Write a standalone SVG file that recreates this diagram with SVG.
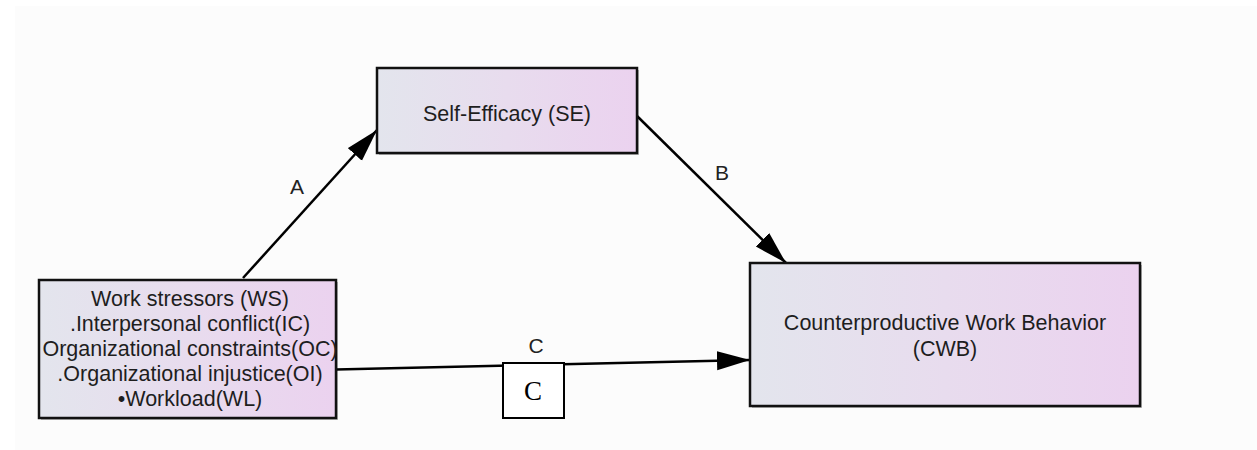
<svg xmlns="http://www.w3.org/2000/svg" width="1257" height="450" viewBox="0 0 1257 450">
  <defs>
    <linearGradient id="boxFill" x1="0" y1="0" x2="1" y2="0">
      <stop offset="0" stop-color="#e3e5ed"/>
      <stop offset="0.5" stop-color="#e8dcee"/>
      <stop offset="1" stop-color="#ebd2ef"/>
    </linearGradient>
    <marker id="arrow" markerUnits="userSpaceOnUse" markerWidth="34" markerHeight="20" refX="33" refY="9.5" orient="auto">
      <path d="M0,0 L33,9.5 L0,19 Z" fill="#000"/>
    </marker>
    <style>
      .node { fill: url(#boxFill); stroke: #111; stroke-width: 2.5; }
      .shadow { fill: #000; opacity: 0.25; }
      .txt { font-family: "Liberation Sans", Arial, sans-serif; font-size: 21.5px; fill: #1e1e1e; text-anchor: middle; }
      .edge { stroke: #000; stroke-width: 2.5; fill: none; marker-end: url(#arrow); }
      .lbl { font-family: "Liberation Sans", Arial, sans-serif; font-size: 21px; fill: #222; text-anchor: middle; }
    </style>
  </defs>

  <!-- canvas -->
  <rect x="0" y="0" width="1257" height="450" fill="#ffffff"/>
  <rect x="15" y="6" width="1242" height="444" fill="#fcfcfc"/>

  <!-- connectors -->
  <g id="connectors">
    <line class="edge" x1="243" y1="278" x2="377" y2="130"/>
    <line class="edge" x1="637" y1="116" x2="786" y2="263"/>
    <line class="edge" x1="336" y1="369.5" x2="750" y2="360"/>
    <text class="lbl" x="297" y="194">A</text>
    <text class="lbl" x="722" y="180">B</text>
    <text class="lbl" x="536" y="353">C</text>
  </g>

  <!-- Self-Efficacy -->
  <g id="node-se">
    <rect class="shadow" x="379" y="70" width="260" height="85"/>
    <rect class="node" x="377" y="68" width="260" height="85"/>
    <text class="txt" x="507" y="121">Self-Efficacy (SE)</text>
  </g>

  <!-- Work stressors -->
  <g id="node-ws">
    <rect class="shadow" x="41" y="282" width="297" height="138"/>
    <rect class="node" x="39" y="280" width="297" height="138"/>
    <text class="txt" x="190" y="306">Work stressors (WS)</text>
    <text class="txt" x="190" y="331">.Interpersonal conflict(IC)</text>
    <text class="txt" x="190" y="356">Organizational constraints(OC)</text>
    <text class="txt" x="190" y="381">.Organizational injustice(OI)</text>
    <text class="txt" x="190" y="406">•Workload(WL)</text>
  </g>

  <!-- Counterproductive Work Behavior -->
  <g id="node-cwb">
    <rect class="shadow" x="752" y="265" width="390" height="143"/>
    <rect class="node" x="750" y="263" width="390" height="143"/>
    <text class="txt" x="945" y="330">Counterproductive Work Behavior</text>
    <text class="txt" x="945" y="356">(CWB)</text>
  </g>

  <!-- path C tag -->
  <g id="node-c">
    <rect x="503" y="363" width="61" height="55" fill="#ffffff" stroke="#000" stroke-width="2"/>
    <text x="533" y="400" font-family="'Liberation Serif', 'Times New Roman', serif" font-size="27" fill="#000" text-anchor="middle">C</text>
  </g>
</svg>
